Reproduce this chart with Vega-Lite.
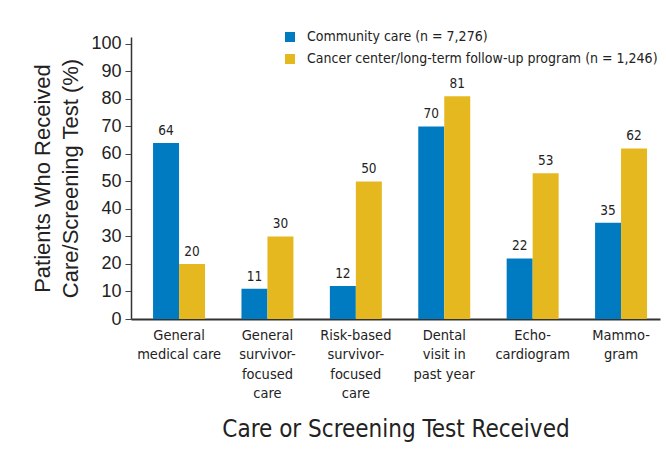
{
  "$schema": "https://vega.github.io/schema/vega-lite/v6.json",
  "width": 529,
  "height": 282,
  "autosize": "none",
  "padding": {"left": 131, "top": 37, "right": 6, "bottom": 140},
  "background": "white",
  "config": {
    "view": {"stroke": null},
    "font": "Liberation Sans Narrow, DejaVu Sans Condensed, sans-serif"
  },
  "data": {
    "values": [
      {"care": "General medical care", "group": "Community care (n = 7,276)", "pct": 64},
      {"care": "General medical care", "group": "Cancer center/long-term follow-up program (n = 1,246)", "pct": 20},
      {"care": "General survivor-focused care", "group": "Community care (n = 7,276)", "pct": 11},
      {"care": "General survivor-focused care", "group": "Cancer center/long-term follow-up program (n = 1,246)", "pct": 30},
      {"care": "Risk-based survivor-focused care", "group": "Community care (n = 7,276)", "pct": 12},
      {"care": "Risk-based survivor-focused care", "group": "Cancer center/long-term follow-up program (n = 1,246)", "pct": 50},
      {"care": "Dental visit in past year", "group": "Community care (n = 7,276)", "pct": 70},
      {"care": "Dental visit in past year", "group": "Cancer center/long-term follow-up program (n = 1,246)", "pct": 81},
      {"care": "Echocardiogram", "group": "Community care (n = 7,276)", "pct": 22},
      {"care": "Echocardiogram", "group": "Cancer center/long-term follow-up program (n = 1,246)", "pct": 53},
      {"care": "Mammogram", "group": "Community care (n = 7,276)", "pct": 35},
      {"care": "Mammogram", "group": "Cancer center/long-term follow-up program (n = 1,246)", "pct": 62}
    ]
  },
  "encoding": {
    "x": {
      "field": "care",
      "type": "nominal",
      "sort": null,
      "scale": {"paddingInner": 0.412, "paddingOuter": 0.198, "align": 0.63},
      "axis": {
        "title": "Care or Screening Test Received",
        "titleFont": "Liberation Sans Narrow, DejaVu Sans Condensed, sans-serif",
        "titleFontSize": 24,
        "titleFontWeight": "normal",
        "titleColor": "#222",
        "titlePadding": 17,
        "labelAngle": 0,
        "labelFont": "Liberation Sans Narrow, DejaVu Sans Condensed, sans-serif",
        "labelFontSize": 14.5,
        "labelColor": "#222",
        "labelLineHeight": 19.5,
        "labelPadding": 9,
        "labelBaseline": "top",
        "ticks": false,
        "domainColor": "#333",
        "domainWidth": 2,
        "labelExpr": "({'General medical care': ['General', 'medical care'], 'General survivor-focused care': ['General', 'survivor-', 'focused', 'care'], 'Risk-based survivor-focused care': ['Risk-based', 'survivor-', 'focused', 'care'], 'Dental visit in past year': ['Dental', 'visit in', 'past year'], 'Echocardiogram': ['Echo-', 'cardiogram'], 'Mammogram': ['Mammo-', 'gram']})[datum.label]"
      }
    },
    "xOffset": {"field": "group", "type": "nominal", "sort": null, "scale": {"paddingInner": 0, "paddingOuter": 0}},
    "y": {
      "field": "pct",
      "type": "quantitative",
      "scale": {"domain": [0, 102.5], "nice": false},
      "axis": {
        "title": ["Patients Who Received", "Care/Screening Test (%)"],
        "titleFont": "Liberation Sans, Arial, sans-serif",
        "titleFontSize": 22,
        "titleFontWeight": "normal",
        "titleColor": "#222",
        "titleLineHeight": 28,
        "titlePadding": 8,
        "values": [0, 10, 20, 30, 40, 50, 60, 70, 80, 90, 100],
        "labelFont": "Liberation Sans, Arial, sans-serif",
        "labelFontSize": 18,
        "labelColor": "#222",
        "labelPadding": 4,
        "tickSize": 6,
        "tickColor": "#444",
        "domainColor": "#333",
        "domainWidth": 1.5,
        "grid": false
      }
    }
  },
  "layer": [
    {
      "mark": {"type": "bar"},
      "encoding": {
        "color": {
          "field": "group",
          "type": "nominal",
          "sort": null,
          "scale": {"range": ["#007BC2", "#E6B820"]},
          "legend": {
            "title": null,
            "orient": "none",
            "legendX": 152,
            "legendY": -7,
            "symbolType": "square",
            "symbolSize": 100,
            "symbolStrokeWidth": 0,
            "symbolOpacity": 1,
            "labelFont": "Liberation Sans Narrow, DejaVu Sans Condensed, sans-serif",
            "labelFontSize": 14,
            "labelColor": "#222",
            "labelOffset": 10,
            "rowPadding": 8,
            "padding": 0,
            "labelLimit": 500
          }
        }
      }
    },
    {
      "mark": {
        "type": "text",
        "baseline": "bottom",
        "dy": -5,
        "fontSize": 13.5,
        "color": "#222",
        "font": "Liberation Sans Narrow, DejaVu Sans Condensed, sans-serif"
      },
      "encoding": {
        "text": {"field": "pct", "type": "quantitative"}
      }
    }
  ]
}
